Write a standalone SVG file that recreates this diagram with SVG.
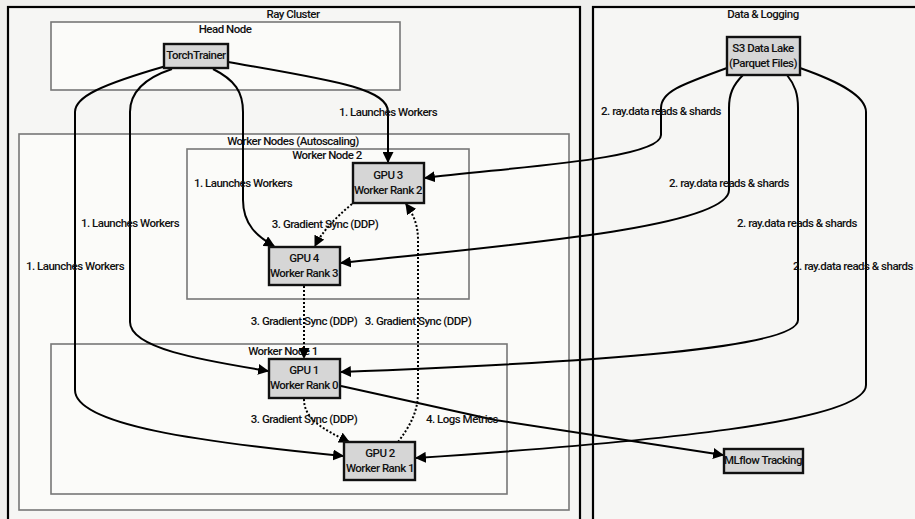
<svg xmlns="http://www.w3.org/2000/svg" width="915" height="519" viewBox="0 0 915 519">
<defs>
<marker id="ah" viewBox="0 0 10 10" refX="9" refY="5" markerWidth="11" markerHeight="11" markerUnits="userSpaceOnUse" orient="auto">
<path d="M0,0 L10,5 L0,10 z" fill="#000"/>
</marker>
</defs>
<style>
text{font-family:"Roboto","Liberation Sans",sans-serif;font-weight:500;font-size:11.5px;letter-spacing:-0.5px;fill:#111;text-anchor:middle;dominant-baseline:middle}
.cluster{fill:#f6f6f4;stroke:#000;stroke-width:2.2}
.grp{fill:#fbfbf9;stroke:#777;stroke-width:1.6}
.node{fill:#d6d6d6;stroke:#111;stroke-width:2.4}
.e{fill:none;stroke:#000;stroke-width:2;marker-end:url(#ah)}
.d{fill:none;stroke:#000;stroke-width:2;stroke-dasharray:2 2;marker-end:url(#ah)}
</style>
<rect width="915" height="519" fill="#efefed"/>
<g id="ray-cluster">
<rect class="cluster" x="8" y="7" width="572" height="530"/>
<text x="293" y="15">Ray Cluster</text>
</g>
<g id="data-logging">
<rect class="cluster" x="593" y="7" width="340" height="530" fill="#fbfbf9"/>
<text x="763" y="15">Data &amp; Logging</text>
</g>
<g id="head-node">
<rect class="grp" x="51" y="22" width="349" height="68"/>
<text x="225" y="30">Head Node</text>
</g>
<g id="worker-nodes">
<rect class="grp" x="19" y="134" width="550" height="376"/>
<text x="293" y="142">Worker Nodes (Autoscaling)</text>
</g>
<g id="worker-node-2">
<rect class="grp" x="187" y="149" width="282" height="150"/>
<text x="327" y="156">Worker Node 2</text>
</g>
<g id="worker-node-1">
<rect class="grp" x="51" y="344" width="456" height="150"/>
<text x="283" y="352">Worker Node 1</text>
</g>
<g id="connectors">
<path class="e" d="M228,62 C330,80 388,88 388,112 L388,162"/>
<path class="e" d="M213,69 C235,80 243,92 243,112 L243,200 C243,225 258,237 274,246"/>
<path class="e" d="M172,69 C145,78 130,92 130,112 L130,322 C130,348 200,360 268,371"/>
<path class="e" d="M166,66 C100,85 75,97 75,112 L75,390 C75,425 200,442 343,456"/>
<path class="e" d="M727,68 C680,85 661,92 661,108 L661,135 C661,160 500,168 425,178"/>
<path class="e" d="M743,75 C733,85 729,94 729,108 L729,190 C729,228 500,246 341,263"/>
<path class="e" d="M787,75 C795,85 798,94 798,108 L798,320 C798,348 600,362 341,372"/>
<path class="e" d="M800,68 C840,82 866,96 866,112 L866,385 C866,422 650,442 416,458"/>
<path class="d" d="M352,204 C335,218 322,232 315,246"/>
<path class="d" d="M304,286 L304,358"/>
<path class="d" d="M398,442 C410,426 418,412 418,392 L418,240 C418,224 413,214 406,204"/>
<path class="d" d="M304,399 C304,420 325,430 349,442"/>
<path class="e" d="M341,386 L495,420 L723,455"/>
<text x="388" y="113">1. Launches Workers</text>
<text x="243" y="184">1. Launches Workers</text>
<text x="130" y="224">1. Launches Workers</text>
<text x="75" y="267">1. Launches Workers</text>
<text x="661" y="112">2. ray.data reads &amp; shards</text>
<text x="729" y="184">2. ray.data reads &amp; shards</text>
<text x="797" y="224">2. ray.data reads &amp; shards</text>
<text x="853" y="267">2. ray.data reads &amp; shards</text>
<text x="325" y="225">3. Gradient Sync (DDP)</text>
<text x="304" y="322">3. Gradient Sync (DDP)</text>
<text x="418" y="322">3. Gradient Sync (DDP)</text>
<text x="304" y="420">3. Gradient Sync (DDP)</text>
<text x="462" y="420">4. Logs Metrics</text>
</g>
<g id="torchtrainer">
<rect class="node" x="164" y="44" width="64" height="24"/>
<text x="196" y="56">TorchTrainer</text>
</g>
<g id="s3">
<rect class="node" x="727" y="37" width="73" height="38"/>
<text x="763" y="49">S3 Data Lake</text>
<text x="763" y="64">(Parquet Files)</text>
</g>
<g id="gpu3">
<rect class="node" x="353" y="163" width="71" height="40"/>
<text x="388" y="176">GPU 3</text>
<text x="388" y="191">Worker Rank 2</text>
</g>
<g id="gpu4">
<rect class="node" x="269" y="247" width="71" height="38"/>
<text x="304" y="259">GPU 4</text>
<text x="304" y="274">Worker Rank 3</text>
</g>
<g id="gpu1">
<rect class="node" x="269" y="359" width="71" height="39"/>
<text x="304" y="371">GPU 1</text>
<text x="304" y="386">Worker Rank 0</text>
</g>
<g id="gpu2">
<rect class="node" x="344" y="442" width="71" height="38"/>
<text x="380" y="454">GPU 2</text>
<text x="380" y="469">Worker Rank 1</text>
</g>
<g id="mlflow">
<rect class="node" x="724" y="449" width="79" height="24"/>
<text x="763" y="461">MLflow Tracking</text>
</g>
</svg>
